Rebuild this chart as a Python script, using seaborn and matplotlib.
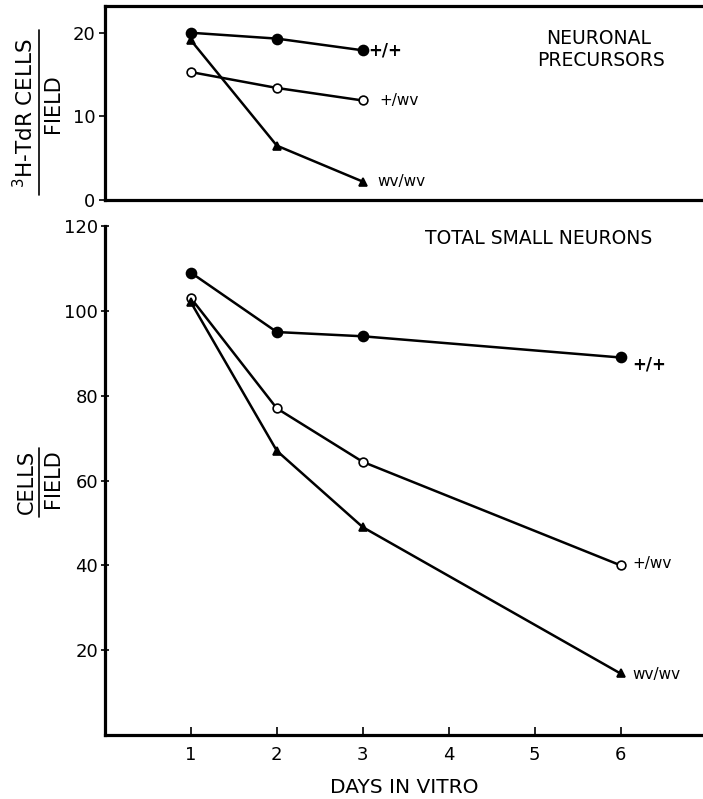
import matplotlib
matplotlib.use("Agg")
import matplotlib.pyplot as plt
from matplotlib.lines import Line2D
import seaborn as sns
import pandas as pd

# ---- data ----
days_top = [1, 2, 3]
pre_wt = [20.0, 19.3, 17.9]      # +/+
pre_het = [15.3, 13.4, 11.9]     # +/wv
pre_hom = [19.1, 6.5, 2.2]       # wv/wv

days_bot = [1, 2, 3, 6]
tot_wt = [109, 95, 94, 89]       # +/+
tot_het = [103, 77, 64.4, 40]    # +/wv
tot_hom = [102, 67, 49, 14.5]    # wv/wv

genotypes = ["+/+", "+/wv", "wv/wv"]
top_ticks = [0, 10, 20]
bot_yticks = [20, 40, 60, 80, 100, 120]
bot_xticks = [1, 2, 3, 4, 5, 6]

sns.set_style("ticks")
plt.rcParams["font.family"] = ["DejaVu Sans"]
plt.rcParams.update({"text.color": "black", "axes.edgecolor": "black",
                     "axes.labelcolor": "black", "xtick.color": "black",
                     "ytick.color": "black"})

W, H = 703, 799
fig = plt.figure(figsize=(W / 100, H / 100), dpi=100)
ax1 = fig.add_axes([105 / W, 1 - 200 / H, 598 / W, 194 / H])
ax2 = fig.add_axes([105 / W, 1 - 735 / H, 598 / W, 509 / H])

styles = {
    "+/+": dict(marker="o", markersize=7.2, markerfacecolor="black"),
    "+/wv": dict(marker="o", markersize=6.3, markerfacecolor="white"),
    "wv/wv": dict(marker="^", markersize=6.3, markerfacecolor="black"),
}

def draw(ax, days, series):
    for g, vals in zip(genotypes, series):
        df = pd.DataFrame({"day": days, "val": vals})
        sns.lineplot(data=df, x="day", y="val", ax=ax, color="black",
                     linewidth=1.8, markeredgecolor="black",
                     markeredgewidth=1.2, **styles[g])

draw(ax1, days_top, [pre_wt, pre_het, pre_hom])
draw(ax2, days_bot, [tot_wt, tot_het, tot_hom])

# line labels
lab_top = {"+/+": (4, 0, 12, "bold"), "+/wv": (12, 0, 11, "normal"),
           "wv/wv": (10.5, 0, 11, "normal")}
for g, vals in zip(genotypes, [pre_wt, pre_het, pre_hom]):
    dx, dy, fs, fw = lab_top[g]
    ax1.annotate(g, (days_top[-1], vals[-1]), xytext=(dx, dy),
                 textcoords="offset points", ha="left", va="center",
                 fontsize=fs, fontweight=fw)
lab_bot = {"+/+": (8.5, -5, 12, "bold"), "+/wv": (8.5, 1.5, 11, "normal"),
           "wv/wv": (8.5, -0.5, 11, "normal")}
for g, vals in zip(genotypes, [tot_wt, tot_het, tot_hom]):
    dx, dy, fs, fw = lab_bot[g]
    ax2.annotate(g, (days_bot[-1], vals[-1]), xytext=(dx, dy),
                 textcoords="offset points", ha="left", va="center",
                 fontsize=fs, fontweight=fw)

# axes styling
ax1.set_xlim(0, 6.96)
ax1.set_ylim(0, 23.2)
ax1.set_xticks([])
ax1.set_yticks(top_ticks)
ax1.set_yticklabels([str(t) for t in top_ticks])
for s in ["top", "left", "bottom"]:
    ax1.spines[s].set_linewidth(2.3)
ax1.spines["right"].set_visible(False)
ax1.tick_params(axis="y", direction="out", length=4, width=1.2, pad=3,
                labelsize=13)
ax1.set_xlabel("")
ax1.set_ylabel("")

ax2.set_xlim(0, 6.96)
ax2.set_ylim(0, 120)
ax2.set_yticks(bot_yticks)
ax2.set_yticklabels([str(t) for t in bot_yticks])
ax2.set_xticks(bot_xticks)
ax2.set_xticklabels([str(t) for t in bot_xticks])
for s in ["left", "bottom"]:
    ax2.spines[s].set_linewidth(2.3)
ax2.spines["top"].set_visible(False)
ax2.spines["right"].set_visible(False)
ax2.tick_params(axis="y", direction="inout", length=6, width=1.2, pad=2,
                labelsize=13)
ax2.tick_params(axis="x", direction="in", length=6, width=1.2, pad=8,
                labelsize=13)
ax2.set_ylabel("")
ax2.set_xlabel("DAYS IN VITRO", fontsize=14.5, labelpad=10)

# panel titles
ax1.text((599 - 105) / 598, 1 - 32 / 194, "NEURONAL",
         transform=ax1.transAxes, ha="center", va="center", fontsize=13.5)
ax1.text((601 - 105) / 598, 1 - 55 / 194, "PRECURSORS",
         transform=ax1.transAxes, ha="center", va="center", fontsize=13.5)
ax2.text((539 - 105) / 598, (735 - 238) / 509, "TOTAL SMALL NEURONS",
         transform=ax2.transAxes, ha="center", va="center", fontsize=13.5)

# y-axis fraction labels
fig.text(25 / W, 1 - 113 / H, r"$^{3}$H-TdR CELLS", rotation=90,
         ha="center", va="center", fontsize=15.5)
fig.text(53 / W, 1 - 104 / H, "FIELD", rotation=90,
         ha="center", va="center", fontsize=15)
fig.add_artist(Line2D([39 / W, 39 / W], [1 - 195 / H, 1 - 30 / H],
                      transform=fig.transFigure, color="black", lw=1.2))

fig.text(27 / W, 1 - 482 / H, "CELLS", rotation=90,
         ha="center", va="center", fontsize=15)
fig.text(53 / W, 1 - 479 / H, "FIELD", rotation=90,
         ha="center", va="center", fontsize=15)
fig.add_artist(Line2D([39 / W, 39 / W], [1 - 517 / H, 1 - 448 / H],
                      transform=fig.transFigure, color="black", lw=1.2))

fig.savefig("out.png", dpi=100)
